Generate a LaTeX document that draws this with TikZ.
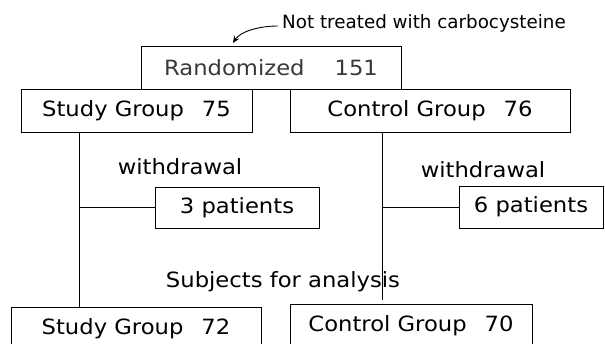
\documentclass[tikz,border=0pt]{standalone}
\usepackage{fontspec}
\setmainfont{DejaVu Sans}[FakeStretch=1.08]
\newfontfamily\ntfont{DejaVu Sans}
\usetikzlibrary{arrows.meta}
\begin{document}
\begin{tikzpicture}[x=1pt,y=-1pt,
  box/.style={draw, line width=0.9pt, inner sep=0pt, font=\fontsize{21}{24}\selectfont},
  lbl/.style={inner sep=0pt, font=\fontsize{21}{24}\selectfont},
  ln/.style={line width=0.9pt}]
\useasboundingbox (0,0) rectangle (605,344);
\clip (0,0) rectangle (605,344);
% boxes
\node[box, minimum width=260, minimum height=43, text=black!78] (rand) at (271,67.5) {Randomized\hspace{30pt}151};
\node[box, minimum width=231, minimum height=43] (s75) at (136.5,110.5) {Study Group\hspace{18pt}75};
\node[box, minimum width=280, minimum height=43] (c76) at (430,110.5) {Control Group\hspace{18pt}76};
\node[box, minimum width=164, minimum height=41] (p3) at (237,207.5) {3 patients};
\node[box, minimum width=144, minimum height=42] (p6) at (531,207) {6 patients};
\node[box, minimum width=250, minimum height=43] (s72) at (136,328.5) {Study Group\hspace{18pt}72};
\node[box, minimum width=242, minimum height=43] (c70) at (411,325.5) {Control Group\hspace{18pt}70};
% labels
\node[lbl] (w1) at (180,167) {withdrawal};
\node[lbl] (w2) at (483,170) {withdrawal};
\node[lbl] (subj) at (283,282) {Subjects for analysis};
\node[inner sep=0pt, anchor=west, font=\ntfont\fontsize{18.3}{22}\selectfont] (nt) at (282,23) {Not treated with carbocysteine};
% connectors
\coordinate (sv) at (79,0);
\coordinate (cend) at (382,300);
\coordinate (tip) at (233,43);
\coordinate (astart) at (278,26);
\draw[ln] (s75.south -| sv) -- (s72.north -| sv);
\draw[ln] (sv |- p3.west) -- (p3.west);
\draw[ln] (c76.south -| cend) -- (cend);
\draw[ln] (cend |- p6.west) -- (p6.west);
\draw[line width=0.9pt, -{Stealth[length=7pt,width=6pt]}] (astart) .. controls (258,26) and (240,32) .. (tip);
\end{tikzpicture}
\end{document}
